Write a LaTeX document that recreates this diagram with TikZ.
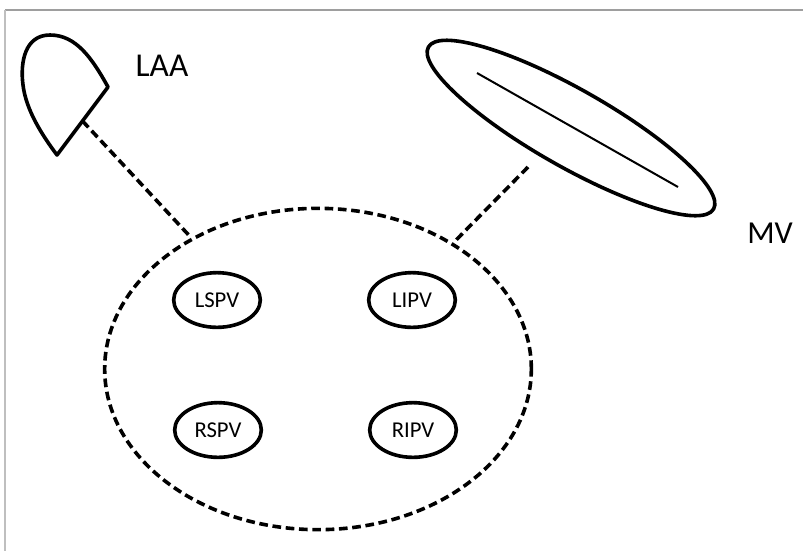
\documentclass[tikz,border=0pt]{standalone}
\usepackage{fontspec}
\setmainfont{Carlito}
\usetikzlibrary{shapes.geometric,calc}
\tikzset{
  outline/.style={draw=black, line width=2.7pt},
  pv/.style={outline, ellipse, minimum width=65pt, minimum height=41pt, inner sep=0pt, font=\fontsize{17}{17}\selectfont},
  dashline/.style={draw=black, line width=2.7pt, dash pattern=on 6.5pt off 3.5pt},
  frame/.style={draw=black!38, line width=1.5pt},
  label/.style={font=\fontsize{25}{25}\selectfont, inner sep=0pt}
}
\begin{document}
\begin{tikzpicture}[x=0.75pt, y=-0.75pt]
\useasboundingbox (0,0) rectangle (803,551);
% frame
\draw[frame] (803,10) -- (5,10);
\draw[draw=black!25, line width=0.8pt] (5,10) -- (5,551);

% left atrium (dashed)
\node[dashline, ellipse, minimum width=320pt, minimum height=241pt, inner sep=0pt] (la) at (318,369) {};

% pulmonary veins
\node[pv] (lspv) at (217,300) {LSPV};
\node[pv] (lipv) at (412,300) {LIPV};
\node[pv] (rspv) at (218,430) {RSPV};
\node[pv] (ripv) at (413,430) {RIPV};

% LAA shape
\coordinate (laab) at (57,155);
\coordinate (laar) at (108,87);
\draw[outline, line join=round] (laab) -- (laar)
  .. controls (92,58) and (76,35) .. (50,35)
  .. controls (25,35) and (20,62) .. (23,85)
  .. controls (26,110) and (42,135) .. (laab) -- cycle;
\coordinate (laafoot) at ($(laab)!0.5!(laar)$);
\node[label] (laa) at (162,66) {LAA};

% MV
\node[outline, ellipse, minimum width=246pt, minimum height=58pt, inner sep=0pt, rotate=-29.6] (mv) at (571,128) {};
\coordinate (mva) at (477,73);
\coordinate (mvb) at (678,187);
\draw[black, line width=1.5pt] (mva) -- (mvb);
\coordinate (mvfoot) at (528,167);
\node[label, font=\fontsize{24}{24}\selectfont] (mvl) at (770,233) {MV};

% connectors
\draw[dashline] (laafoot) -- (la.134.8);
\draw[dashline] (mvfoot) -- (la.43.2);
\end{tikzpicture}
\end{document}
